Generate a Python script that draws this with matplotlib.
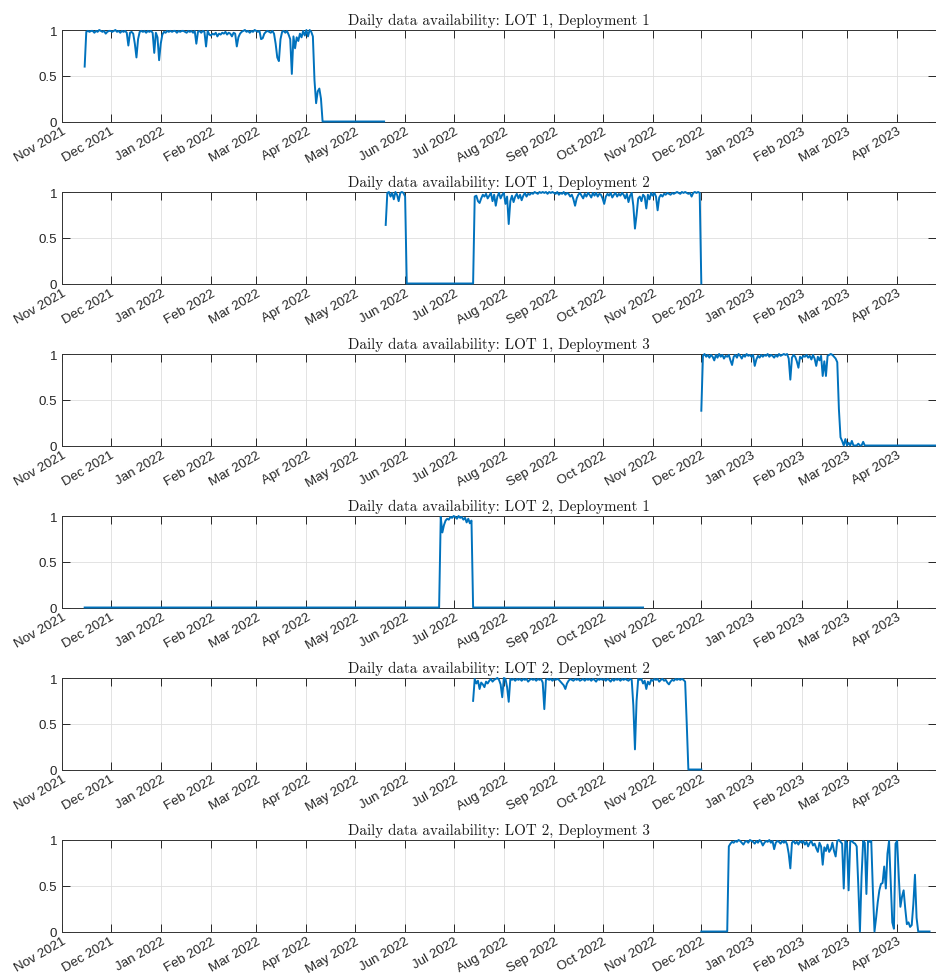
import matplotlib
matplotlib.use("Agg")
import matplotlib.pyplot as plt
import matplotlib.dates as mdates
import pandas as pd

plt.rcParams["font.family"] = ["Liberation Sans", "DejaVu Sans"]

# daily data availability (fraction of the day)
# LOT 1, Deployment 1 -- daily from 2021-11-15
l1d1_start = "2021-11-15"
l1d1 = [0.60, 0.98, 0.99, 0.98, 0.99, 0.99, 0.97, 0.99, 0.98, 1.00, 0.99, 0.98, 0.99, 0.96, 0.98, 0.99,
        0.99, 0.98, 0.99, 1.00, 0.98, 0.99, 0.97, 0.99, 0.98, 0.99, 0.97, 0.83, 0.97, 0.98, 0.96, 0.85,
        0.70, 0.90, 0.98, 0.99, 0.98, 0.99, 0.97, 0.99, 0.98, 0.99, 0.97, 0.75, 0.97, 0.92, 0.67,
        0.85, 0.95, 0.98, 0.97, 0.99, 0.98, 0.99, 0.98, 0.99, 0.99, 0.97, 0.99, 0.98, 0.99, 0.99, 0.98,
        0.97, 0.99, 0.98, 0.99, 0.97, 0.99, 0.85, 0.98, 0.99, 0.97, 0.99, 0.98, 0.82, 0.99, 0.95,
        0.94, 0.96, 0.95, 0.97, 0.93, 0.96, 0.95, 0.97, 0.96, 0.98, 0.95, 0.97, 0.96, 0.93, 0.97, 0.96,
        0.82, 0.92, 0.96, 0.98, 0.99, 1.00, 0.98, 0.99, 0.97, 0.99, 0.98, 1.00,
        0.99, 0.98, 0.99, 0.90, 0.91, 0.96, 0.98, 0.99, 0.98, 0.97, 0.99, 0.96, 0.85, 0.70, 0.66, 0.90,
        0.98, 0.99, 0.97, 0.99, 0.95, 0.90, 0.52, 0.93, 0.80, 0.92, 0.88, 0.96, 0.92, 0.99, 0.94,
        1.00, 0.93, 1.00, 0.98, 0.93, 0.45, 0.20, 0.33, 0.36, 0.25, 0.00]
l1d1_end = "2022-05-19"

# LOT 1, Deployment 2 -- two daily runs
l1d2_a_start = "2022-05-20"
l1d2_a = [0.64, 0.99, 1.00, 0.95, 0.99, 0.92, 1.00, 0.97, 0.90, 0.99, 1.00, 0.99, 0.95, 0.00]
l1d2_b_start = "2022-07-13"
l1d2_b = [0.00,
          0.95, 0.96, 0.90, 0.88, 0.93, 0.97, 0.95, 0.98, 0.93, 0.96, 0.99, 0.90, 0.97, 0.85, 0.95, 0.99,
          0.93, 0.97,
          0.99, 0.87, 0.95, 0.65, 0.90, 0.96, 0.89, 0.95, 0.98, 0.93, 0.97, 0.91, 0.96, 0.99, 0.95, 0.98,
          0.97, 0.99, 0.98, 1.00, 0.99, 0.98, 1.00, 0.99, 1.00, 0.99, 1.00, 0.98, 1.00, 0.99, 1.00,
          0.99, 0.98, 1.00, 0.97, 0.99, 0.98, 1.00, 0.97, 0.99, 0.98, 0.95, 0.97, 0.92, 0.85, 0.93, 0.97,
          0.99, 0.96, 0.93, 0.98, 0.95, 0.99, 0.97, 0.94, 0.99, 0.96, 0.99, 0.95, 0.98, 0.97,
          0.93, 0.87, 0.95, 0.98, 0.96, 0.99, 0.94, 0.97, 0.99, 0.95, 0.98, 0.96, 0.99, 0.97, 0.93, 0.98,
          0.89, 0.96, 0.99, 0.85, 0.60, 0.75, 0.93, 0.95, 0.90, 0.97, 0.95, 0.82, 0.97, 0.92, 0.99,
          0.96, 0.99, 0.95, 0.80, 0.94, 0.97, 0.95, 0.98, 0.97, 0.99, 0.98, 0.97, 0.99, 0.98, 0.99, 1.00,
          0.99, 0.98, 1.00, 0.99, 1.00, 0.99, 0.98, 0.99, 0.95, 0.99, 1.00, 0.99, 1.00, 0.99,
          0.00]

# LOT 1, Deployment 3 -- daily from 2022-12-01
l1d3_start = "2022-12-01"
l1d3 = [0.38, 0.98, 1.00, 0.97, 0.99, 0.96, 0.99, 0.97, 0.93, 0.99, 0.96, 1.00, 0.97, 0.99, 0.95, 0.98,
        0.97, 0.99, 0.93, 0.88, 0.97, 0.99, 0.96, 1.00, 0.98, 0.95, 0.99, 0.97, 1.00, 0.98, 0.99,
        0.97, 0.99, 0.87, 0.94, 0.98, 0.96, 0.99, 0.97, 0.99, 0.98, 1.00, 0.97, 0.99, 0.98, 0.96, 0.99,
        0.97, 1.00, 0.98, 0.99, 1.00, 0.99, 1.00, 0.95, 0.72, 0.96, 0.99, 0.97, 0.92, 0.85, 0.97,
        0.95, 0.98, 0.97, 0.99, 0.96, 0.98, 0.94, 0.99, 0.95, 0.87, 0.97, 0.93, 0.98, 0.76, 0.92, 0.76,
        0.98, 0.99, 1.00, 0.99, 0.97, 0.95, 0.91, 0.40, 0.09, 0.05, 0.00, 0.07,
        0.00, 0.03, 0.00, 0.05, 0.00, 0.00, 0.00, 0.02, 0.00, 0.00, 0.04, 0.00]
l1d3_end = "2023-04-25"

# LOT 2, Deployment 1
l2d1_first = "2021-11-15"
l2d1_start = "2022-06-22"
l2d1 = [0.00, 0.99, 0.82, 0.90, 0.95, 0.97, 0.96, 0.99, 0.98, 1.00, 0.99, 0.97, 1.00, 0.98, 0.99,
        0.96, 0.98, 0.93, 0.97, 0.92, 0.95, 0.00]
l2d1_end = "2022-10-26"

# LOT 2, Deployment 2 -- daily from 2022-07-13
l2d2_start = "2022-07-13"
l2d2 = [0.75, 0.99, 0.94, 0.97, 0.88, 0.95, 0.93, 0.90, 0.96, 0.94, 0.97, 0.99, 0.96, 0.98, 0.99,
        1.00, 0.98, 0.93, 0.79,
        1.00, 0.99, 0.90, 0.74, 0.99, 0.98, 0.99, 0.97, 0.99, 0.98, 0.99, 0.97, 0.99, 0.98, 0.99, 0.96,
        0.98, 0.99, 0.98, 0.99, 0.97, 0.99, 0.98, 0.99, 0.95, 0.66, 0.98, 0.99, 0.98, 0.99, 0.97,
        0.99, 0.98, 0.99, 0.98, 0.96, 0.94, 0.92, 0.88, 0.94, 0.97, 0.99, 0.98, 0.97, 0.99, 0.98, 0.99,
        0.97, 0.98, 0.99, 0.97, 0.99, 0.98, 0.99, 0.97, 0.99, 0.98, 0.96, 0.99, 0.98, 0.99,
        0.98, 0.99, 0.97, 0.99, 0.98, 0.96, 0.99, 0.97, 0.99, 0.98, 0.99, 0.97, 0.99, 0.98, 0.99, 0.98,
        0.97, 0.99, 0.98, 0.70, 0.22, 0.75, 0.99, 0.98, 0.99, 0.94, 0.97, 0.88, 0.96, 0.93, 0.98,
        0.97, 0.99, 0.98, 0.99, 0.96, 0.98, 0.99, 0.97, 0.98, 0.95, 0.93, 0.96, 0.98, 0.97, 0.99, 0.98,
        0.99, 0.98, 0.99, 0.98, 0.96, 0.50, 0.00]
l2d2_end = "2022-12-01"

# LOT 2, Deployment 3
l2d3_first = "2022-12-01"
l2d3_start = "2022-12-17"
l2d3 = [0.00, 0.93, 0.96, 0.98, 0.97, 0.99, 0.98, 1.00, 0.99, 0.97, 0.95, 0.98, 0.99, 0.97, 1.00,
        0.99, 0.98, 0.96, 0.99, 0.97, 1.00, 0.98, 0.94, 0.97, 0.99, 0.98, 1.00, 0.97, 0.99, 0.90, 0.97,
        0.99, 0.98, 0.96, 0.99, 0.97, 0.99, 0.95, 0.85, 0.69, 0.97, 0.99, 0.96, 0.98, 0.95, 0.99,
        0.97, 0.99, 0.95, 0.98, 0.93, 0.97, 0.99, 0.94, 0.96, 0.91, 0.87, 0.97, 0.93, 0.73, 0.92, 0.88,
        0.95, 0.87, 0.90, 0.97, 0.88, 0.82, 0.99, 1.00, 0.98, 0.96, 0.47, 0.99,
        0.97, 0.45, 0.98, 0.99, 0.97, 0.96, 0.93, 0.50, 0.00, 0.60, 0.99, 0.97, 0.41, 0.99, 0.98, 0.99,
        0.45, 0.00, 0.15, 0.32, 0.45, 0.52, 0.53, 0.71, 0.47, 0.85, 0.99, 0.55, 0.10, 0.03, 0.96,
        0.99, 0.60, 0.27, 0.38, 0.45, 0.25, 0.08, 0.10, 0.05, 0.07, 0.30, 0.62, 0.15, 0.00]
l2d3_end = "2023-04-21"

titles = ["Daily data availability: LOT 1, Deployment 1",
          "Daily data availability: LOT 1, Deployment 2",
          "Daily data availability: LOT 1, Deployment 3",
          "Daily data availability: LOT 2, Deployment 1",
          "Daily data availability: LOT 2, Deployment 2",
          "Daily data availability: LOT 2, Deployment 3"]

# each panel: list of (start date, daily values) runs joined into one line
panels = [
    [(l1d1_start, l1d1), (l1d1_end, [0.0])],
    [(l1d2_a_start, l1d2_a), (l1d2_b_start, l1d2_b)],
    [(l1d3_start, l1d3), (l1d3_end, [0.0])],
    [(l2d1_first, [0.0]), (l2d1_start, l2d1), (l2d1_end, [0.0])],
    [(l2d2_start, l2d2), (l2d2_end, [0.0])],
    [(l2d3_first, [0.0]), (l2d3_start, l2d3), (l2d3_end, [0.0])],
]

W, H = 937, 978
fig = plt.figure(figsize=(W / 100, H / 100), dpi=100)

for i, (title, runs) in enumerate(zip(titles, panels)):
    top = 31 + 162 * i
    ax = fig.add_axes([62 / W, 1 - (top + 91.5) / H, 874 / W, 91.5 / H])

    dates, vals = [], []
    for start, v in runs:
        dates += list(pd.date_range(start, periods=len(v), freq="D"))
        vals += v
    ax.plot(dates, vals, color="#0072BD", lw=1.4, clip_on=False, zorder=3)

    ax.set_xlim(pd.Timestamp("2021-11-01"), pd.Timestamp("2023-04-25"))
    ax.set_ylim(0, 1)
    ax.set_yticks([0, 0.5, 1])
    ax.set_yticklabels(["0", "0.5", "1"])
    ax.xaxis.set_major_locator(mdates.MonthLocator())
    ax.xaxis.set_major_formatter(mdates.DateFormatter("%b %Y"))
    ax.tick_params(direction="in", top=True, right=True, length=5.5, width=0.7,
                   colors="#262626", labelsize=9.6)
    ax.tick_params(axis="x", pad=2.5)
    plt.setp(ax.get_xticklabels(), rotation=30, ha="right", va="top", rotation_mode="anchor")
    ax.grid(True, color="#dedede", lw=0.6)
    for sp in ax.spines.values():
        sp.set_color("#333333")
        sp.set_linewidth(0.7)
    ax.set_title(title, fontfamily="cmr10", fontsize=10.8, pad=4, color="#1a1a1a")

fig.savefig("out.png", dpi=100)
